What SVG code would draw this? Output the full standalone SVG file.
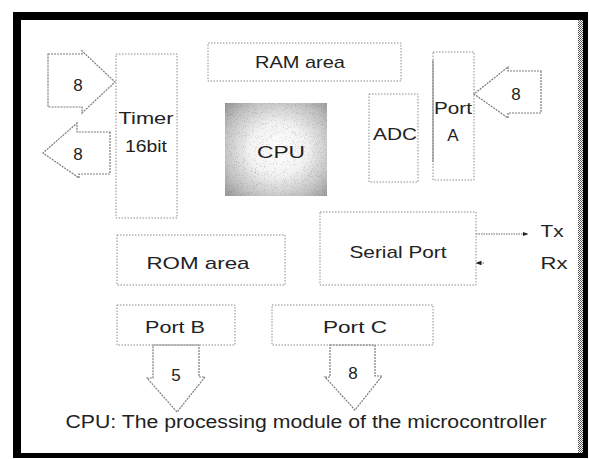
<svg xmlns="http://www.w3.org/2000/svg" width="589" height="459" viewBox="0 0 589 459">
  <style>
    .box { fill: none; stroke: #8c8c8c; stroke-width: 1; stroke-dasharray: 1.5 1.5; }
    .blk { fill: none; stroke: #7a7a7a; stroke-width: 1.2; stroke-dasharray: 2 1; stroke-linejoin: miter; }
    .lbl { font-family: "Liberation Sans", Arial, sans-serif; font-size: 17px; fill: #222; text-anchor: middle; }
    .wire { stroke: #666; stroke-width: 1; stroke-dasharray: 1.5 1; fill: none; }
  </style>
  <defs>
    <radialGradient id="cpuShade" cx="0.52" cy="0.5" r="0.7">
      <stop offset="0" stop-color="#ffffff"/>
      <stop offset="0.4" stop-color="#f2f2f2"/>
      <stop offset="0.75" stop-color="#c4c4c4"/>
      <stop offset="1" stop-color="#9a9a9a"/>
    </radialGradient>
    <!-- speckled halftone look for the CPU block -->
    <filter id="grain" x="0" y="0" width="1" height="1">
      <feTurbulence type="fractalNoise" baseFrequency="0.9" numOctaves="2" seed="7" result="noise"/>
      <feColorMatrix in="noise" type="saturate" values="0" result="gray"/>
      <feComponentTransfer in="gray" result="speck">
        <feFuncR type="discrete" tableValues="0.45 0.8 1 1 1"/>
        <feFuncG type="discrete" tableValues="0.45 0.8 1 1 1"/>
        <feFuncB type="discrete" tableValues="0.45 0.8 1 1 1"/>
        <feFuncA type="linear" slope="0" intercept="1"/>
      </feComponentTransfer>
      <feBlend in="SourceGraphic" in2="speck" mode="multiply"/>
    </filter>
    <pattern id="dither" width="2" height="2" patternUnits="userSpaceOnUse">
      <rect width="2" height="2" fill="#fff"/>
      <rect width="1" height="1" fill="#555"/>
      <rect x="1" y="1" width="1" height="1" fill="#555"/>
    </pattern>
    <marker id="dot" viewBox="0 0 8 8" refX="6" refY="4" markerWidth="6" markerHeight="6" orient="auto">
      <path d="M0,1 L8,4 L0,7 Z" fill="#222"/>
    </marker>
  </defs>

  <!-- page background and thick frame -->
  <rect width="589" height="459" fill="#fff"/>
  <rect x="13" y="12" width="575" height="8" fill="#000"/>
  <rect x="13" y="12" width="8" height="446" fill="#000"/>
  <rect x="583" y="12" width="5" height="446" fill="#000"/>
  <rect x="578" y="20" width="5" height="433" fill="url(#dither)"/>
  <rect x="13" y="453" width="575" height="5" fill="#000"/>

  <!-- block arrows and signal lines -->
  <g id="connectors">
    <!-- 8-bit input into timer -->
    <polygon class="blk" points="48,54 82,54 82,51 115,82 82,113 82,107 48,107"/>
    <text class="lbl" x="78" y="91">8</text>
    <!-- 8-bit output from timer -->
    <polygon class="blk" points="110,132 110,174 79,174 79,178 43,153 77,123 77,132"/>
    <text class="lbl" x="78" y="160">8</text>
    <!-- 8-bit input into Port A -->
    <polygon class="blk" points="541,71 541,113 508,113 508,118 474,94 508,67 508,71"/>
    <text class="lbl" x="516" y="100">8</text>
    <!-- 5-bit output from Port B -->
    <polygon class="blk" points="153,345 199,345 199,377 205,377 177,412 147,378 153,378"/>
    <text class="lbl" x="176" y="381">5</text>
    <!-- 8-bit output from Port C -->
    <polygon class="blk" points="330,345 375,345 375,376 382,376 355,410 325,377 330,377"/>
    <text class="lbl" x="353" y="379">8</text>
    <!-- serial lines -->
    <line class="wire" x1="476" y1="234" x2="527" y2="234" marker-end="url(#dot)"/>
    <line class="wire" x1="484" y1="263" x2="477" y2="263" marker-end="url(#dot)"/>
    <text class="lbl" x="552" y="237" textLength="23" lengthAdjust="spacingAndGlyphs">Tx</text>
    <text class="lbl" x="554" y="269" textLength="27" lengthAdjust="spacingAndGlyphs">Rx</text>
  </g>

  <g id="ram">
    <rect class="box" x="208" y="43" width="193" height="38"/>
    <text class="lbl" x="300" y="68" textLength="90" lengthAdjust="spacingAndGlyphs">RAM area</text>
  </g>

  <g id="timer">
    <rect class="box" x="116" y="54" width="61" height="164"/>
    <text class="lbl" x="146" y="124" textLength="55" lengthAdjust="spacingAndGlyphs">Timer</text>
    <text class="lbl" x="146" y="152" textLength="42" lengthAdjust="spacingAndGlyphs">16bit</text>
  </g>

  <g id="cpu">
    <rect x="225" y="103" width="102" height="93" fill="url(#cpuShade)" filter="url(#grain)"/>
    <text class="lbl" x="281" y="158" textLength="48" lengthAdjust="spacingAndGlyphs">CPU</text>
  </g>

  <g id="adc">
    <rect class="box" x="369" y="94" width="49" height="88"/>
    <text class="lbl" x="395" y="140" textLength="44" lengthAdjust="spacingAndGlyphs">ADC</text>
  </g>

  <g id="port-a">
    <rect class="box" x="433" y="52" width="41" height="128"/>
    <line x1="433" y1="60" x2="433" y2="162" stroke="#777" stroke-width="1"/>
    <text class="lbl" x="453" y="114" textLength="38" lengthAdjust="spacingAndGlyphs">Port</text>
    <text class="lbl" x="453" y="141">A</text>
  </g>

  <g id="serial-port">
    <rect class="box" x="320" y="212" width="156" height="73"/>
    <text class="lbl" x="398" y="258" textLength="97" lengthAdjust="spacingAndGlyphs">Serial Port</text>
  </g>

  <g id="rom">
    <rect class="box" x="117" y="235" width="168" height="50"/>
    <text class="lbl" x="198" y="269" textLength="103" lengthAdjust="spacingAndGlyphs">ROM area</text>
  </g>

  <g id="port-b">
    <rect class="box" x="117" y="305" width="118" height="40"/>
    <text class="lbl" x="175" y="333" textLength="60" lengthAdjust="spacingAndGlyphs">Port B</text>
  </g>

  <g id="port-c">
    <rect class="box" x="272" y="305" width="161" height="40"/>
    <text class="lbl" x="355" y="333" textLength="64" lengthAdjust="spacingAndGlyphs">Port C</text>
  </g>

  <g id="caption">
    <text class="lbl" x="306" y="428" textLength="481" lengthAdjust="spacingAndGlyphs" style="font-size:18px">CPU: The processing module of the microcontroller</text>
  </g>
</svg>
